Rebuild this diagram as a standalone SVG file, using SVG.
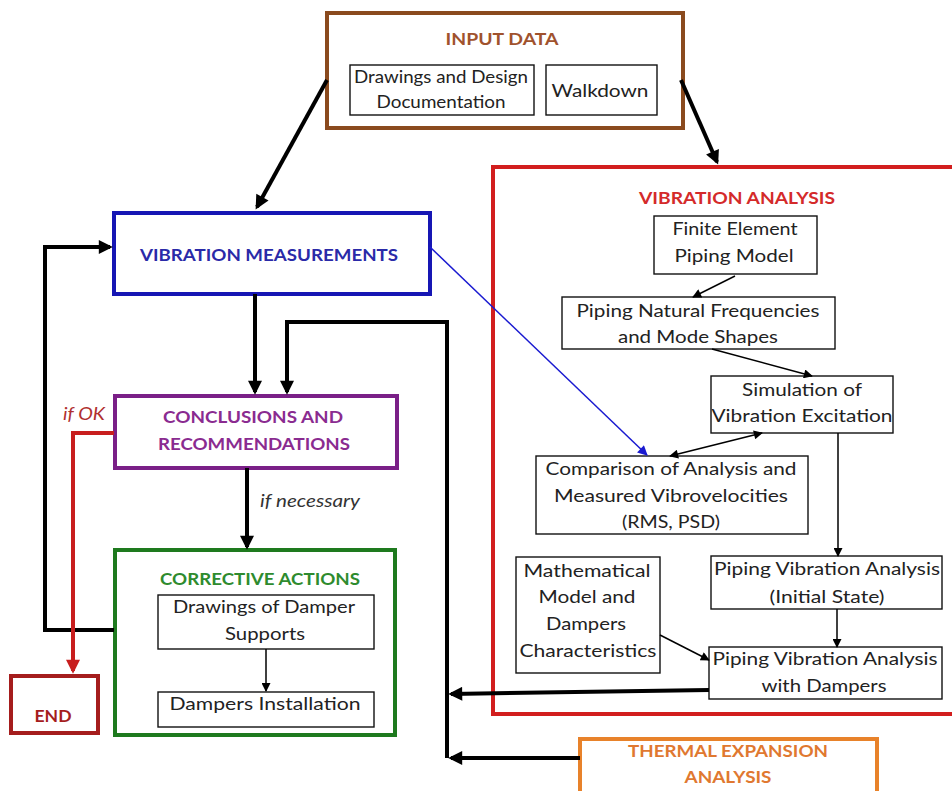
<svg xmlns="http://www.w3.org/2000/svg" width="952" height="791" viewBox="0 0 952 791">
<defs>
<style>
.t{font-family:Lato,"Open Sans","Liberation Sans",sans-serif;font-size:17px;fill:#222;text-anchor:middle}
.h{font-family:Lato,"Open Sans","Liberation Sans",sans-serif;font-size:17px;font-weight:bold;text-anchor:middle}
.i{font-family:Lato,"Open Sans","Liberation Sans",sans-serif;font-size:17px;font-style:italic}
.box{fill:#fff;stroke:#111;stroke-width:1.4}
.big{fill:#fff;stroke-width:4}
.thick{fill:none;stroke:#000;stroke-width:4}
.thin{fill:none;stroke:#000;stroke-width:1.5}
</style>
<marker id="ah" viewBox="0 0 10 10" refX="8" refY="5" markerWidth="16" markerHeight="14" markerUnits="userSpaceOnUse" orient="auto"><path d="M0,0 L10,5 L0,10 z" fill="#000"/></marker>
<marker id="ahr" viewBox="0 0 10 10" refX="8" refY="5" markerWidth="18" markerHeight="14" markerUnits="userSpaceOnUse" orient="auto"><path d="M0,0 L10,5 L0,10 z" fill="#c81e1e"/></marker>
<marker id="as" viewBox="0 0 10 10" refX="9" refY="5" markerWidth="13" markerHeight="9" markerUnits="userSpaceOnUse" orient="auto-start-reverse"><path d="M0,0 L10,5 L0,10 z" fill="#000"/></marker>
<marker id="ab" viewBox="0 0 10 10" refX="9" refY="5" markerWidth="15" markerHeight="10" markerUnits="userSpaceOnUse" orient="auto"><path d="M0,0 L10,5 L0,10 z" fill="#1a1ad0"/></marker>
</defs>
<rect width="952" height="791" fill="#fff"/>

<g id="input-data">
<rect class="big" x="327" y="13" width="356" height="115" stroke="#8a4a1e"/>
<text class="h" x="502" y="45" fill="#a0522d" textLength="113" lengthAdjust="spacingAndGlyphs">INPUT DATA</text>
</g>
<g id="drawings-design">
<rect class="box" x="350" y="65" width="184" height="50"/>
<text class="t" x="441" y="83" textLength="174" lengthAdjust="spacingAndGlyphs">Drawings and Design</text>
<text class="t" x="441" y="108" textLength="129" lengthAdjust="spacingAndGlyphs">Documentation</text>
</g>
<g id="walkdown">
<rect class="box" x="546" y="65" width="111" height="50"/>
<text class="t" x="600" y="97" textLength="97" lengthAdjust="spacingAndGlyphs">Walkdown</text>
</g>

<g id="vibration-measurements">
<rect class="big" x="114" y="213" width="316" height="81" stroke="#1616b4"/>
<text class="h" x="269" y="261" fill="#2a2aa8" textLength="258" lengthAdjust="spacingAndGlyphs">VIBRATION MEASUREMENTS</text>
</g>

<g id="conclusions">
<rect class="big" x="115" y="396" width="282" height="72" stroke="#7a1f87"/>
<text class="h" x="253" y="423" fill="#8a2b90" textLength="180" lengthAdjust="spacingAndGlyphs">CONCLUSIONS AND</text>
<text class="h" x="254" y="450" fill="#8a2b90" textLength="192" lengthAdjust="spacingAndGlyphs">RECOMMENDATIONS</text>
</g>

<g id="corrective-actions">
<rect class="big" x="115" y="550" width="280" height="185" stroke="#1e7a1e"/>
<text class="h" x="260" y="585" fill="#2e8b2e" textLength="200" lengthAdjust="spacingAndGlyphs">CORRECTIVE ACTIONS</text>
</g>
<g id="damper-drawings">
<rect class="box" x="158" y="595" width="216" height="54"/>
<text class="t" x="264" y="613" textLength="182" lengthAdjust="spacingAndGlyphs">Drawings of Damper</text>
<text class="t" x="265" y="640" textLength="80" lengthAdjust="spacingAndGlyphs">Supports</text>
</g>
<g id="dampers-installation">
<rect class="box" x="158" y="692" width="216" height="35"/>
<text class="t" x="265" y="710" textLength="191" lengthAdjust="spacingAndGlyphs">Dampers Installation</text>
</g>

<g id="end">
<rect class="big" x="11" y="676" width="87" height="57" stroke="#a51d1d"/>
<text class="h" x="53" y="722" fill="#a51d1d" textLength="37" lengthAdjust="spacingAndGlyphs">END</text>
</g>

<g id="vibration-analysis">
<rect class="big" x="493" y="167" width="470" height="547" stroke="#d21e1e"/>
<text class="h" x="737" y="204" fill="#d42a2a" textLength="196" lengthAdjust="spacingAndGlyphs">VIBRATION ANALYSIS</text>
</g>
<g id="fe-model">
<rect class="box" x="654" y="216" width="163" height="58"/>
<text class="t" x="735" y="235" textLength="125" lengthAdjust="spacingAndGlyphs">Finite Element</text>
<text class="t" x="734" y="262" textLength="119" lengthAdjust="spacingAndGlyphs">Piping Model</text>
</g>
<g id="natural-frequencies">
<rect class="box" x="562" y="297" width="273" height="52"/>
<text class="t" x="698" y="317" textLength="243" lengthAdjust="spacingAndGlyphs">Piping Natural Frequencies</text>
<text class="t" x="698" y="343" textLength="160" lengthAdjust="spacingAndGlyphs">and Mode Shapes</text>
</g>
<g id="simulation">
<rect class="box" x="711" y="376" width="182" height="57"/>
<text class="t" x="802" y="396" textLength="120" lengthAdjust="spacingAndGlyphs">Simulation of</text>
<text class="t" x="802" y="422" textLength="181" lengthAdjust="spacingAndGlyphs">Vibration Excitation</text>
</g>
<g id="comparison">
<rect class="box" x="536" y="456" width="272" height="78"/>
<text class="t" x="671" y="475" textLength="251" lengthAdjust="spacingAndGlyphs">Comparison of Analysis and</text>
<text class="t" x="671" y="502" textLength="234" lengthAdjust="spacingAndGlyphs">Measured Vibrovelocities</text>
<text class="t" x="671" y="528" textLength="98" lengthAdjust="spacingAndGlyphs">(RMS, PSD)</text>
</g>
<g id="math-model">
<rect class="box" x="516" y="557" width="144" height="116"/>
<text class="t" x="587" y="577" textLength="127" lengthAdjust="spacingAndGlyphs">Mathematical</text>
<text class="t" x="587" y="603" textLength="97" lengthAdjust="spacingAndGlyphs">Model and</text>
<text class="t" x="586" y="630" textLength="80" lengthAdjust="spacingAndGlyphs">Dampers</text>
<text class="t" x="588" y="657" textLength="137" lengthAdjust="spacingAndGlyphs">Characteristics</text>
</g>
<g id="initial-state">
<rect class="box" x="711" y="556" width="231" height="53"/>
<text class="t" x="827" y="575" textLength="226" lengthAdjust="spacingAndGlyphs">Piping Vibration Analysis</text>
<text class="t" x="827" y="603" textLength="115" lengthAdjust="spacingAndGlyphs">(Initial State)</text>
</g>
<g id="with-dampers">
<rect class="box" x="709" y="647" width="233" height="52"/>
<text class="t" x="825" y="665" textLength="225" lengthAdjust="spacingAndGlyphs">Piping Vibration Analysis</text>
<text class="t" x="824" y="692" textLength="125" lengthAdjust="spacingAndGlyphs">with Dampers</text>
</g>

<g id="thermal-expansion">
<rect class="big" x="580" y="739" width="297" height="70" stroke="#e8822a"/>
<text class="h" x="728" y="757" fill="#e07830" textLength="200" lengthAdjust="spacingAndGlyphs">THERMAL EXPANSION</text>
<text class="h" x="728" y="783" fill="#e07830" textLength="87" lengthAdjust="spacingAndGlyphs">ANALYSIS</text>
</g>

<g id="connectors">
<path class="thick" d="M327,80 L257,207" marker-end="url(#ah)"/>
<path class="thick" d="M681,80 L717,162" marker-end="url(#ah)"/>
<path class="thick" d="M255,294 V392" marker-end="url(#ah)"/>
<path class="thick" d="M447,758 V322 H287 V392" marker-end="url(#ah)"/>
<path class="thick" d="M247,468 V547" marker-end="url(#ah)"/>
<path class="thick" d="M114,630 H45 V247 H110" marker-end="url(#ah)"/>
<path d="M114,433 H73 V671" fill="none" stroke="#c81e1e" stroke-width="4" marker-end="url(#ahr)"/>
<path class="thick" d="M709,690 L451,694" marker-end="url(#ah)"/>
<path class="thick" d="M580,758 H451" marker-end="url(#ah)"/>
<path d="M430,247 L647,455" fill="none" stroke="#1a1ad0" stroke-width="1.5" marker-end="url(#ab)"/>
<path class="thin" d="M735,276 L693,297" marker-end="url(#as)"/>
<path class="thin" d="M712,349 L812,376" marker-end="url(#as)"/>
<path class="thin" d="M670,456 L762,433" marker-start="url(#as)" marker-end="url(#as)"/>
<path class="thin" d="M838,433 V556" marker-end="url(#as)"/>
<path class="thin" d="M837,609 V647" marker-end="url(#as)"/>
<path class="thin" d="M660,635 L709,660" marker-end="url(#as)"/>
<path class="thin" d="M266,649 V691" marker-end="url(#as)"/>
<text class="i" x="63" y="420" fill="#b03030" textLength="42" lengthAdjust="spacingAndGlyphs">if OK</text>
<text class="i" x="260" y="507" fill="#333" textLength="100" lengthAdjust="spacingAndGlyphs">if necessary</text>
</g>
</svg>
